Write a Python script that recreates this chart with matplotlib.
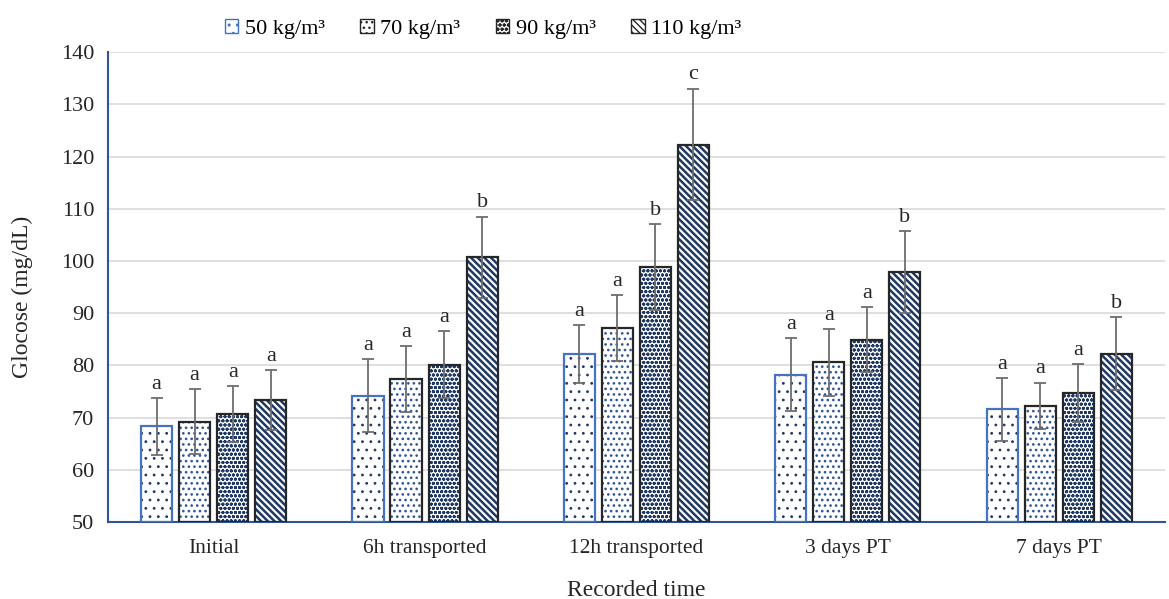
import numpy as np
import matplotlib as mpl
import matplotlib.pyplot as plt

plt.rcParams['font.family'] = ['Liberation Serif', 'DejaVu Serif']

# data
categories = ['Initial', '6h transported', '12h transported', '3 days PT', '7 days PT']
series = ['50 kg/m\u00b3', '70 kg/m\u00b3', '90 kg/m\u00b3', '110 kg/m\u00b3']
means = [
    [68.3, 74.2, 82.2, 78.2, 71.6],
    [69.2, 77.4, 87.2, 80.6, 72.3],
    [70.7, 80.1, 98.8, 84.9, 74.7],
    [73.4, 100.7, 122.3, 97.9, 82.2],
]
errs = [
    [5.5, 7.0, 5.5, 7.0, 6.0],
    [6.2, 6.3, 6.3, 6.4, 4.4],
    [5.3, 6.4, 8.2, 6.2, 5.5],
    [5.7, 7.8, 10.7, 7.8, 7.0],
]
letters = [
    ['a', 'a', 'a', 'a', 'a'],
    ['a', 'a', 'a', 'a', 'a'],
    ['a', 'a', 'b', 'a', 'a'],
    ['a', 'b', 'c', 'b', 'b'],
]

# styles
hatches = ['..', '...', 'oooo', '\\\\\\\\\\']
hatch_lw = [0.8, 1.1, 1.0, 1.8]
hatch_cols = ['#1f3864', '#2f5597', '#1f3864', '#1f3864']
edge_cols = ['#4472c4', '#262626', '#262626', '#262626']

fig = plt.figure(figsize=(11.69, 5.99), dpi=100)
ax = fig.add_axes([0.0924, 0.1285, 0.904, 0.7845])

x = np.arange(len(categories))
w = 0.147
step = 0.18
for i in range(len(series)):
    xs = x + (i - 1.5) * step
    with mpl.rc_context({'hatch.linewidth': hatch_lw[i]}):
        ax.bar(xs, np.array(means[i]) - 50, w, bottom=50, color='white',
               edgecolor=hatch_cols[i], hatch=hatches[i], linewidth=0, zorder=2)
        # legend proxy
        ax.bar(0, 0, 0, color='white', edgecolor=edge_cols[i], hatch=hatches[i],
               label=series[i])
    ax.bar(xs, np.array(means[i]) - 50, w, bottom=50, fill=False,
           edgecolor=edge_cols[i], linewidth=1.6, zorder=3)
    ax.errorbar(xs, means[i], yerr=errs[i], fmt='none', ecolor='#6d6d6d',
                elinewidth=1.3, capsize=4.5, capthick=1.3, zorder=4)
    for j in range(len(categories)):
        ax.text(xs[j], means[i][j] + errs[i][j] + 0.8, letters[i][j],
                ha='center', va='bottom', fontsize=16, color='#262626')

ax.set_xlim(-0.5, len(categories) - 0.5)
ax.set_ylim(50, 140)
ax.set_yticks(np.arange(50, 141, 10))
ax.set_xticks(x)
ax.set_xticklabels(categories, fontsize=15.5)
ax.tick_params(axis='y', labelsize=16, length=0, pad=10, colors='#262626')
ax.tick_params(axis='x', length=0, pad=12, colors='#262626')
ax.yaxis.grid(True, color='#d9d9d9', linewidth=1.2, zorder=0)
ax.set_axisbelow(True)
for s in ['top', 'right']:
    ax.spines[s].set_visible(False)
for s in ['left', 'bottom']:
    ax.spines[s].set_color('#2f5597')
    ax.spines[s].set_linewidth(1.5)

ax.set_ylabel('Glocose (mg/dL)', fontsize=17, color='#262626', va='center')
ax.yaxis.set_label_coords(-0.081, 0.48)
ax.set_xlabel('Recorded time', fontsize=17, color='#262626', va='center')
ax.xaxis.set_label_coords(0.5, -0.145)

ax.legend(loc='center', bbox_to_anchor=(0.355, 1.05), ncol=4, frameon=False,
          fontsize=16, handlelength=0.6, handleheight=0.6, handletextpad=0.3,
          columnspacing=1.6)

fig.savefig('out.png', dpi=100)
